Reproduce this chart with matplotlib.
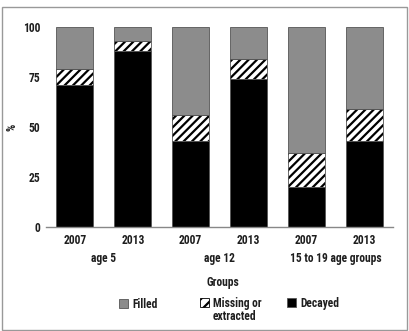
import matplotlib.pyplot as plt
from matplotlib import font_manager
from matplotlib.patches import Rectangle

names = {f.name for f in font_manager.fontManager.ttflist}
fam = 'DejaVu Sans'
for cand in ['Liberation Sans Narrow', 'Roboto Condensed', 'DejaVu Sans Condensed']:
    if cand in names:
        fam = cand
        break
plt.rcParams['font.family'] = [fam, 'DejaVu Sans']
plt.rcParams['hatch.linewidth'] = 1.6

# Data (percent of DMFT components)
years = ['2007', '2013', '2007', '2013', '2007', '2013']
groups = ['age 5', 'age 12', '15 to 19 age groups']
decayed = [71, 88, 43, 74, 20, 43]
missing = [8, 5, 13, 10, 17, 16]
filled = [21, 7, 44, 16, 63, 41]

txt = '#1e1e1e'
fs = 8.3

fig = plt.figure(figsize=(4.09, 3.31), dpi=100)
ax = fig.add_axes([0.1125, 0.314, 0.849, 0.604])

x = list(range(len(years)))
w = 0.64
edge = '#555555'
ax.bar(x, decayed, w, color='black', edgecolor=edge, linewidth=0.6)
ax.bar(x, missing, w, bottom=decayed, color='white', edgecolor='black',
       hatch='////', linewidth=0)
bottom2 = [d + m for d, m in zip(decayed, missing)]
ax.bar(x, filled, w, bottom=bottom2, color='#8c8c8c', edgecolor=edge, linewidth=0.6)
ax.bar(x, missing, w, bottom=decayed, color='none', edgecolor=edge, linewidth=0.6)

ax.set_xlim(-0.5, 5.5)
ax.set_ylim(0, 100)
ax.set_yticks([0, 25, 50, 75, 100])
ax.set_xticks(x)
ax.set_xticklabels(years)
ax.tick_params(axis='x', length=0, labelsize=fs, pad=5)
ax.tick_params(axis='y', length=0, labelsize=fs, pad=4)
for lab in ax.get_xticklabels() + ax.get_yticklabels():
    lab.set_fontweight('bold')
    lab.set_color(txt)
for s in ['top', 'right', 'left']:
    ax.spines[s].set_visible(False)
ax.spines['bottom'].set_color('#888888')
ax.spines['bottom'].set_linewidth(1)

ax.set_ylabel('%', fontsize=fs, fontweight='bold', color=txt)
ax.yaxis.set_label_coords(-0.078, 0.5)

# group labels
for i, g in enumerate(groups):
    ax.text(2 * i + 0.5, -15.5, g, ha='center', va='center',
            fontsize=fs, fontweight='bold', color=txt, clip_on=False)
ax.text(2.55, -27.5, 'Groups', ha='center', va='center', fontsize=fs,
        fontweight='bold', color=txt, clip_on=False)

# legend (drawn by hand to match the layout)
H = 331.0
W = 409.0
leg = [('Filled', dict(facecolor='#8c8c8c', edgecolor=edge), 119, 303),
       ('Missing or\nextracted', dict(facecolor='white', edgecolor='black', hatch='///'), 200, 302),
       ('Decayed', dict(facecolor='black', edgecolor=edge), 287, 302)]
for label, style, px, py in leg:
    fig.add_artist(Rectangle((px / W, 1 - (py + 4.5) / H), 9 / W, 9 / H,
                             transform=fig.transFigure, linewidth=0.6, **style))
    fig.text((px + 13) / W, 1 - (py - 5.5) / H, label, ha='left', va='top',
             fontsize=fs, fontweight='bold', color=txt, linespacing=1.1)

fig.patches.append(Rectangle((2 / W, 1 / H), 405 / W, 323 / H,
                             transform=fig.transFigure, fill=False,
                             edgecolor='#999999', linewidth=1))

fig.savefig('out.png', dpi=100)
